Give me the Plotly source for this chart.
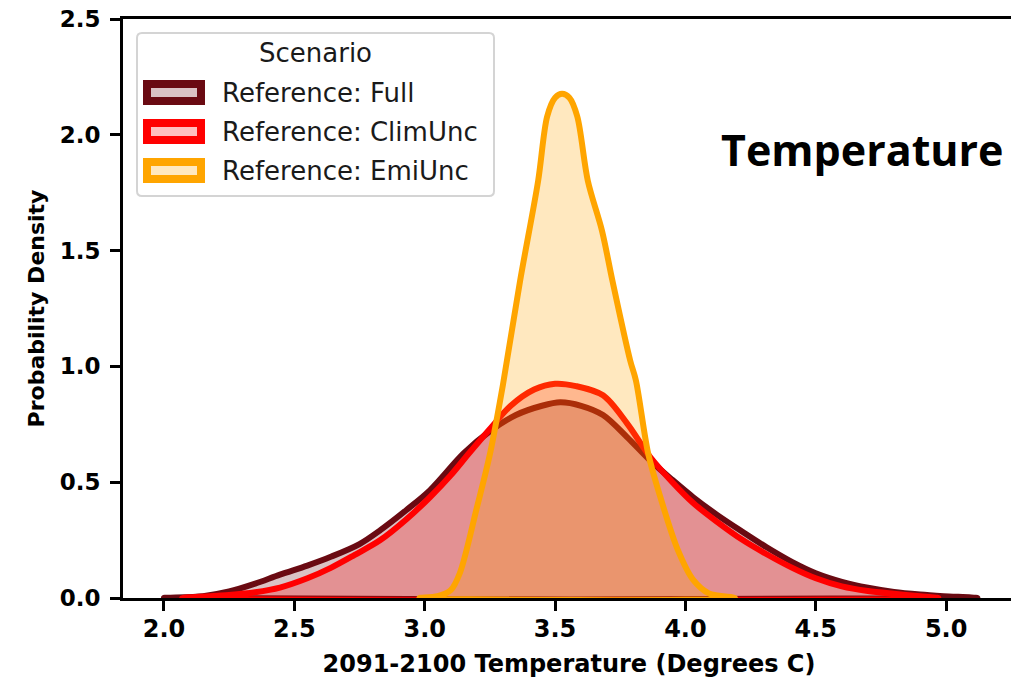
import plotly.graph_objects as go

# ---- data (kernel density curves) ----
full_x = [2.00, 2.15, 2.25, 2.35, 2.445, 2.55, 2.64, 2.75, 2.83, 2.93, 3.02, 3.15, 3.25, 3.35,
          3.45, 3.52, 3.60, 3.684, 3.776, 3.864, 3.95, 4.03, 4.12, 4.22, 4.31, 4.41, 4.50,
          4.60, 4.70, 4.80, 4.90, 4.99, 5.12]
full_y = [0.0, 0.008, 0.028, 0.062, 0.101, 0.14, 0.178, 0.233, 0.293, 0.38, 0.465, 0.625, 0.72, 0.79,
          0.83, 0.845, 0.83, 0.79, 0.695, 0.595, 0.51, 0.435, 0.36, 0.285, 0.22, 0.155, 0.107,
          0.07, 0.044, 0.026, 0.015, 0.008, 0.0]

clim_x = [2.07, 2.25, 2.35, 2.445, 2.55, 2.64, 2.73, 2.83, 2.93, 3.02, 3.10, 3.17, 3.25, 3.33,
          3.42, 3.50, 3.58, 3.684, 3.776, 3.864, 3.95, 4.03, 4.12, 4.22, 4.31, 4.41, 4.50,
          4.60, 4.70, 4.80, 4.90, 4.97]
clim_y = [0.0, 0.013, 0.025, 0.045, 0.085, 0.13, 0.185, 0.25, 0.34, 0.435, 0.53, 0.625, 0.73, 0.83,
          0.9, 0.925, 0.915, 0.875, 0.754, 0.61, 0.50, 0.41, 0.33, 0.25, 0.19, 0.13, 0.085,
          0.05, 0.03, 0.018, 0.008, 0.0]

emi_x = [2.98, 3.05, 3.10, 3.135, 3.20, 3.25, 3.30, 3.366, 3.435, 3.47, 3.50, 3.527, 3.555,
         3.585, 3.626, 3.68, 3.72, 3.788, 3.81, 3.857, 3.90, 3.97, 4.03, 4.09, 4.19]
emi_y = [0.0, 0.008, 0.034, 0.108, 0.39, 0.62, 0.92, 1.37, 1.80, 2.08, 2.16, 2.177, 2.16,
         2.08, 1.80, 1.586, 1.37, 1.026, 0.94, 0.625, 0.45, 0.21, 0.078, 0.02, 0.0]

series_names = ["Reference: Full", "Reference: ClimUnc", "Reference: EmiUnc"]
series_x = [full_x, clim_x, emi_x]
series_y = [full_y, clim_y, emi_y]
line_colors = ["#6a0a12", "#ff0000", "#ffa500"]
fill_colors = ["rgba(106,10,18,0.25)", "rgba(255,0,0,0.25)", "rgba(255,165,0,0.25)"]
legend_title = "Scenario"
panel_label = "Temperature"

x_ticks = [2.0, 2.5, 3.0, 3.5, 4.0, 4.5, 5.0]
y_ticks = [0.0, 0.5, 1.0, 1.5, 2.0, 2.5]

# ---- figure geometry (pixels); the page body adds an 8px offset ----
OFF = 8
W, H = 1011, 671
ML, MR, MT, MB = 115, 4, 11, 81
PW, PH = W - ML - MR, H - MT - MB


def px(x):
    return (x - OFF - ML) / PW


def py(y):
    return 1 - (y - OFF - MT) / PH


fig = go.Figure()
for name, xs, ys, lc, fc in zip(series_names, series_x, series_y, line_colors, fill_colors):
    fig.add_trace(go.Scatter(
        x=list(xs) + [xs[0]], y=list(ys) + [ys[0]],
        mode="lines", name=name, showlegend=False,
        line=dict(color=lc, width=6, shape="spline", smoothing=0.9),
        fill="toself", fillcolor=fc,
    ))

# ---- legend drawn as a boxed key (matplotlib style) ----
shapes = []
annotations = []
bx0, by0, bx1, by1, r = 137, 33, 494, 196, 5
rx, ry = r / PW, r / PH
X0, X1, Y0, Y1 = px(bx0), px(bx1), py(by0), py(by1)
path = (f"M{X0 + rx},{Y0} L{X1 - rx},{Y0} Q{X1},{Y0} {X1},{Y0 - ry} "
        f"L{X1},{Y1 + ry} Q{X1},{Y1} {X1 - rx},{Y1} L{X0 + rx},{Y1} "
        f"Q{X0},{Y1} {X0},{Y1 + ry} L{X0},{Y0 - ry} Q{X0},{Y0} {X0 + rx},{Y0} Z")
shapes.append(dict(type="path", path=path, xref="paper", yref="paper",
                   line=dict(color="#d4d4d4", width=2), fillcolor="white", layer="above"))
annotations.append(dict(text=legend_title, xref="paper", yref="paper",
                        x=px(315), y=py(53), xanchor="center", yanchor="middle", showarrow=False,
                        font=dict(family="DejaVu Sans", size=26, color="#1a1a1a")))
row_centers = [92.5, 131.5, 170.5]
for name, lc, fc, yc in zip(series_names, line_colors, fill_colors, row_centers):
    shapes.append(dict(type="rect", xref="paper", yref="paper",
                       x0=px(147), x1=px(201), y0=py(yc - 8.5), y1=py(yc + 8.5),
                       line=dict(color=lc, width=8), fillcolor=fc, layer="above"))
    annotations.append(dict(text=name, xref="paper", yref="paper",
                            x=px(220), y=py(yc), xanchor="left", yanchor="middle", showarrow=False,
                            font=dict(family="DejaVu Sans", size=26, color="#1a1a1a")))

annotations.append(dict(
    text=f"<b>{panel_label}</b>", xref="paper", yref="paper",
    x=px(719), y=py(149), xanchor="left", yanchor="middle", showarrow=False,
    font=dict(family="Open Sans", size=43, color="black"),
))

fig.update_layout(
    width=W, height=H,
    margin=dict(l=ML, r=MR, t=MT, b=MB, autoexpand=False),
    paper_bgcolor="white", plot_bgcolor="white",
    showlegend=False,
    shapes=shapes, annotations=annotations,
)

fig.update_xaxes(
    range=[1.843, 5.264], tickvals=x_ticks, tickformat=".1f",
    showline=True, linecolor="black", linewidth=3, mirror=True,
    ticks="outside", ticklen=10, tickwidth=3, tickcolor="black",
    showgrid=False, zeroline=False, ticklabelstandoff=-3, ticklabeloverflow="allow",
    automargin=False,
    tickfont=dict(family="DejaVu Sans", size=24, color="black", weight="bold"),
    title=dict(text="<b>2091-2100 Temperature (Degrees C)</b>", standoff=14,
               font=dict(family="DejaVu Sans", size=24, color="black")),
)
fig.update_yaxes(
    range=[0, 2.5], tickvals=y_ticks, tickformat=".1f",
    showline=True, linecolor="black", linewidth=3, mirror=True,
    ticks="outside", ticklen=10, tickwidth=3, tickcolor="black",
    showgrid=False, zeroline=False, ticklabelstandoff=5, ticklabeloverflow="allow",
    automargin=False,
    tickfont=dict(family="DejaVu Sans", size=23, color="black", weight="bold"),
    title=dict(text="<b>Probability Density</b>", standoff=9,
               font=dict(family="DejaVu Sans", size=22, color="black")),
)

fig.write_html("out.html")
